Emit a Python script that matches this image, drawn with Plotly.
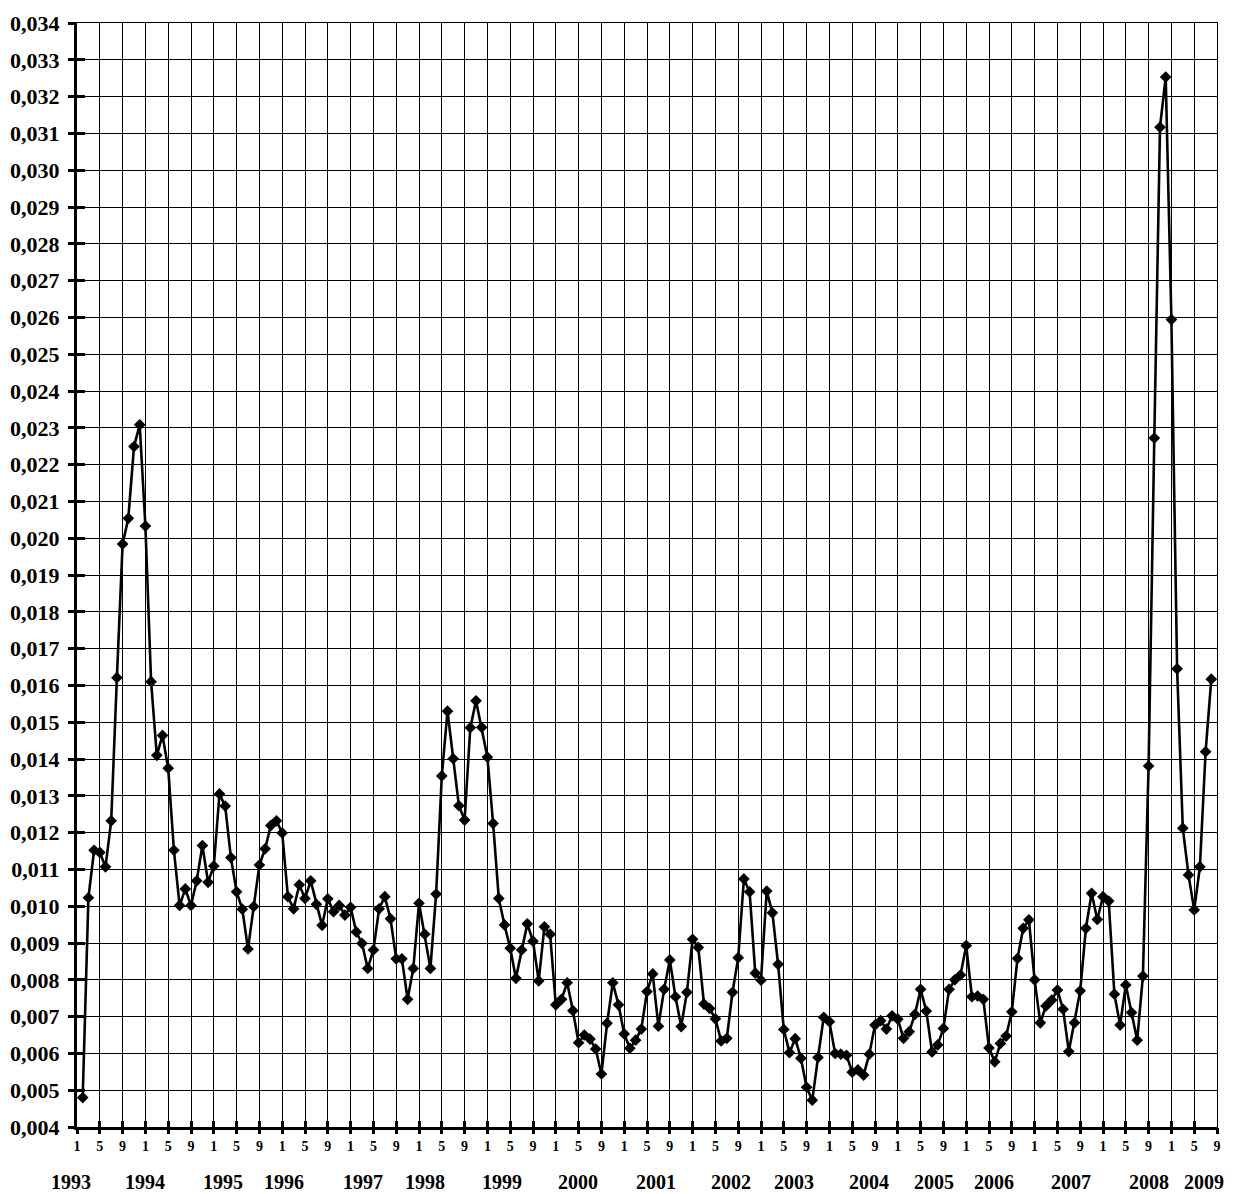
import plotly.graph_objects as go

# Monthly series, starting February 1993 (month offset 1 from Jan 1993)
start_offset = 1
values = [
    0.00480, 0.01023, 0.01152, 0.01146, 0.01107, 0.01232, 0.01621, 0.01984, 0.02054, 0.02249, 0.02308,
    0.02033, 0.01610, 0.01410, 0.01464, 0.01375, 0.01152, 0.01002, 0.01047, 0.01002, 0.01069, 0.01165, 0.01065,
    0.01109, 0.01305, 0.01272, 0.01132, 0.01039, 0.00992, 0.00884, 0.00999, 0.01112, 0.01156, 0.01219, 0.01232,
    0.01199, 0.01026, 0.00993, 0.01058, 0.01021, 0.01069, 0.01005, 0.00948, 0.01020, 0.00985, 0.01002, 0.00976,
    0.00997, 0.00930, 0.00899, 0.00831, 0.00881, 0.00993, 0.01026, 0.00966, 0.00857, 0.00857, 0.00747, 0.00831,
    0.01008, 0.00924, 0.00831, 0.01033, 0.01354, 0.01530, 0.01401, 0.01273, 0.01234, 0.01485, 0.01558, 0.01486,
    0.01405, 0.01225, 0.01021, 0.00949, 0.00886, 0.00804, 0.00881, 0.00952, 0.00905, 0.00797, 0.00944, 0.00924,
    0.00732, 0.00747, 0.00792, 0.00716, 0.00629, 0.00650, 0.00639, 0.00612, 0.00544, 0.00682, 0.00792, 0.00732,
    0.00653, 0.00614, 0.00636, 0.00666, 0.00768, 0.00816, 0.00674, 0.00774, 0.00854, 0.00754, 0.00673, 0.00766,
    0.00910, 0.00888, 0.00734, 0.00722, 0.00694, 0.00634, 0.00641, 0.00766, 0.00860, 0.01074, 0.01039, 0.00818,
    0.00799, 0.01041, 0.00982, 0.00842, 0.00665, 0.00602, 0.00640, 0.00587, 0.00508, 0.00473, 0.00589, 0.00698,
    0.00686, 0.00600, 0.00598, 0.00595, 0.00549, 0.00555, 0.00541, 0.00598, 0.00677, 0.00689, 0.00666, 0.00702,
    0.00693, 0.00641, 0.00659, 0.00706, 0.00774, 0.00715, 0.00604, 0.00623, 0.00668, 0.00774, 0.00800, 0.00813,
    0.00893, 0.00754, 0.00756, 0.00747, 0.00615, 0.00577, 0.00627, 0.00647, 0.00713, 0.00858, 0.00940, 0.00963,
    0.00800, 0.00683, 0.00729, 0.00745, 0.00772, 0.00720, 0.00605, 0.00683, 0.00770, 0.00940, 0.01035, 0.00964,
    0.01026, 0.01014, 0.00761, 0.00677, 0.00786, 0.00711, 0.00636, 0.00810, 0.01381, 0.02272, 0.03117, 0.03253,
    0.02594, 0.01645, 0.01212, 0.01085, 0.00990, 0.01107, 0.01420, 0.01617,
]

month_tick_labels = ["1", "5", "9"]
years = [str(y) for y in range(1993, 2010)]
year_label_pos = [-1.0, 12.0, 25.7, 36.4, 50.2, 61.1, 74.6, 87.9, 101.6, 114.7,
                  125.8, 138.9, 150.3, 160.8, 174.3, 188.0, 197.7]

x_max = 200
y_min, y_max = 0.004, 0.034

x = [start_offset + i for i in range(len(values))]
tickvals = list(range(0, x_max + 1, 4))
ticktext = [month_tick_labels[i % 3] for i in range(len(tickvals))]

FONT = "Liberation Serif, Times New Roman, serif"

fig = go.Figure()
fig.add_trace(go.Scatter(
    x=x, y=values, mode="lines+markers",
    line=dict(color="black", width=2.6),
    marker=dict(symbol="diamond", size=9, color="black"),
    showlegend=False, cliponaxis=False,
))
# invisible trace to activate overlay axes
fig.add_trace(go.Scatter(x=[x[0]], y=[values[0]], xaxis="x2", yaxis="y2",
                         mode="markers", marker=dict(opacity=0), showlegend=False,
                         hoverinfo="skip"))

annotations = []
for yr, pos in zip(years, year_label_pos):
    annotations.append(dict(
        text=yr, x=pos / x_max, y=-0.0498, xref="paper", yref="paper",
        xanchor="center", yanchor="middle", showarrow=False,
        font=dict(family=FONT, size=20, color="black", weight="bold"),
    ))

fig.update_layout(
    width=1238, height=1194,
    margin=dict(l=77, r=21, t=23, b=67, autoexpand=False),
    paper_bgcolor="white", plot_bgcolor="white",
    separators=", ",
    xaxis=dict(
        range=[0, x_max], tickmode="array", tickvals=tickvals, ticktext=ticktext,
        showgrid=True, gridcolor="black", gridwidth=1,
        showline=True, linecolor="black", linewidth=1, mirror=True,
        ticks="outside", ticklen=6, tickwidth=3, tickcolor="black",
        tickfont=dict(family=FONT, size=14, color="black", weight="bold"),
        zeroline=False, automargin=False,
    ),
    yaxis=dict(
        range=[y_min, y_max], dtick=0.001, tick0=0, tickformat=".3f",
        showgrid=True, gridcolor="black", gridwidth=1,
        showline=True, linecolor="black", linewidth=1, mirror=True,
        ticks="outside", ticklen=8, tickwidth=3, tickcolor="black",
        tickfont=dict(family=FONT, size=22, color="black", weight="bold"),
        ticklabelstandoff=4,
        zeroline=False, automargin=False,
    ),
    xaxis2=dict(
        overlaying="x", side="bottom", range=[0, x_max], tickmode="array",
        tickvals=tickvals, showticklabels=False, showgrid=False, zeroline=False,
        showline=True, linecolor="black", linewidth=3, automargin=False,
        ticks="inside", ticklen=6, tickwidth=3, tickcolor="black",
    ),
    yaxis2=dict(
        overlaying="y", side="left", range=[y_min, y_max], dtick=0.001, tick0=0,
        showticklabels=False, showgrid=False, zeroline=False,
        showline=True, linecolor="black", linewidth=3, automargin=False,
        ticks="inside", ticklen=8, tickwidth=3, tickcolor="black",
    ),
    annotations=annotations,
)

fig.write_html(
    "out.html",
    config={"displayModeBar": False},
    post_script="document.body.style.margin='0';document.body.style.overflow='hidden';",
)
